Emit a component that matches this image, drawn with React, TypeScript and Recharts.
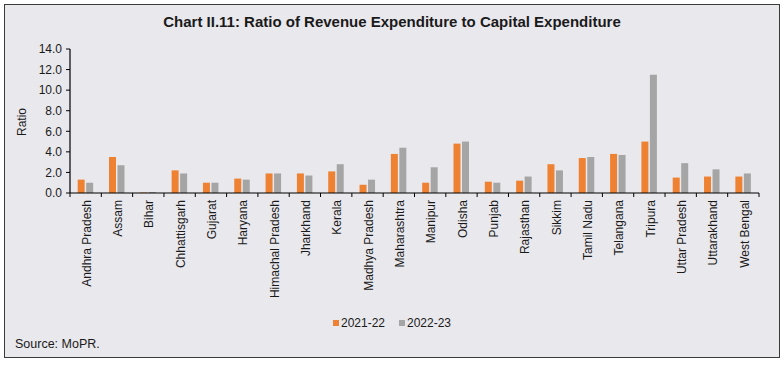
import React from 'react';
import { BarChart, Bar, XAxis, YAxis, Label } from 'recharts';

const states = [
  'Andhra Pradesh', 'Assam', 'Bihar', 'Chhattisgarh', 'Gujarat', 'Haryana',
  'Himachal Pradesh', 'Jharkhand', 'Kerala', 'Madhya Pradesh', 'Maharashtra',
  'Manipur', 'Odisha', 'Punjab', 'Rajasthan', 'Sikkim', 'Tamil Nadu',
  'Telangana', 'Tripura', 'Uttar Pradesh', 'Uttarakhand', 'West Bengal',
];
const fy2122 = [1.3, 3.5, 0.05, 2.2, 1.0, 1.4, 1.9, 1.9, 2.1, 0.8, 3.8, 1.0, 4.8, 1.1, 1.2, 2.8, 3.4, 3.8, 5.0, 1.5, 1.6, 1.6];
const fy2223 = [1.0, 2.7, 0.1, 1.9, 1.0, 1.3, 1.9, 1.7, 2.8, 1.3, 4.4, 2.5, 5.0, 1.0, 1.6, 2.2, 3.5, 3.7, 11.5, 2.9, 2.3, 1.9];
const yTicks = [0, 2, 4, 6, 8, 10, 12, 14];
const seriesNames = ['2021-22', '2022-23'];
const colors = ['#EE8232', '#A5A5A5'];

const data = states.map((s, i) => ({ name: s, a: fy2122[i], b: fy2223[i] }));

const FONT = '"Liberation Sans", Arial, sans-serif';

const XTick = (props: any) => {
  const { x, y, payload, index } = props;
  const half = payload && payload.offset ? payload.offset : 15.66;
  return (
    <g>
      <line x1={x - half} x2={x - half} y1={y} y2={y + 4} stroke="#000" strokeWidth={1} />
      {index === states.length - 1 && (
        <line x1={x + half} x2={x + half} y1={y} y2={y + 4} stroke="#000" strokeWidth={1} />
      )}
      <text
        x={x + 1}
        y={y + 7}
        transform={`rotate(-90, ${x + 1}, ${y + 7})`}
        textAnchor="end"
        dy="0.35em"
        fontSize={12}
        fontFamily={FONT}
        fill="#1a1a1a"
      >
        {payload.value}
      </text>
    </g>
  );
};

const RatioLabel = (props: any) => {
  const vb = props.viewBox || { x: 0, y: 49, width: 70, height: 144 };
  const cx = 22;
  const cy = vb.y + vb.height / 2 + 1;
  return (
    <text
      x={cx}
      y={cy}
      transform={`rotate(-90, ${cx}, ${cy})`}
      textAnchor="middle"
      dy="0.35em"
      fontSize={12}
      fontFamily={FONT}
      fill="#1a1a1a"
    >
      Ratio
    </text>
  );
};

export default function App() {
  return (
    <div style={{ position: 'absolute', left: 0, top: 0, width: 784, height: 365, background: '#fff', fontFamily: FONT }}>
      <div style={{ position: 'absolute', left: 4, top: 4, width: 774, height: 352, border: '1px solid #3a3a3a', background: '#E9E8ED' }} />
      <div style={{ position: 'absolute', left: 0, top: 13, width: 784, textAlign: 'center', fontSize: 15, fontWeight: 'bold', color: '#1a1a1a', lineHeight: '18px' }}>
        Chart II.11: Ratio of Revenue Expenditure to Capital Expenditure
      </div>
      <div style={{ position: 'absolute', left: 0, top: 0 }}>
        <BarChart
          width={784}
          height={365}
          data={data}
          margin={{ top: 49, right: 25, left: 0, bottom: 0 }}
          barCategoryGap="24.5%"
          barGap={1.5}
        >
          <XAxis
            dataKey="name"
            interval={0}
            tickLine={false}
            tickSize={0}
            tickMargin={0}
            height={172}
            tick={<XTick />}
            axisLine={{ stroke: '#000', strokeWidth: 1.2 }}
          />
          <YAxis
            width={70}
            domain={[0, 14]}
            ticks={yTicks}
            interval={0}
            tickFormatter={(v: number) => v.toFixed(1)}
            tickSize={4}
            tickMargin={4}
            tick={{ fontSize: 12, fontFamily: FONT, fill: '#1a1a1a' }}
            tickLine={{ stroke: '#000' }}
            axisLine={{ stroke: '#000', strokeWidth: 1.2 }}
          >
            <Label content={<RatioLabel />} />
          </YAxis>
          <Bar dataKey="a" name={seriesNames[0]} fill={colors[0]} isAnimationActive={false} />
          <Bar dataKey="b" name={seriesNames[1]} fill={colors[1]} isAnimationActive={false} />
        </BarChart>
      </div>
      <div style={{ position: 'absolute', left: 0, top: 315, width: 784, display: 'flex', justifyContent: 'center', alignItems: 'center', fontSize: 12, color: '#1a1a1a', lineHeight: '16px' }}>
        {seriesNames.map((n, i) => (
          <div key={n} style={{ display: 'flex', alignItems: 'center', marginRight: i === 0 ? 14 : 0 }}>
            <span style={{ display: 'inline-block', width: 6, height: 6, background: colors[i], marginRight: 2 }} />
            <span>{n}</span>
          </div>
        ))}
      </div>
      <div style={{ position: 'absolute', left: 15, top: 336, fontSize: 12.5, color: '#1a1a1a', lineHeight: '16px' }}>
        Source: MoPR.
      </div>
    </div>
  );
}
